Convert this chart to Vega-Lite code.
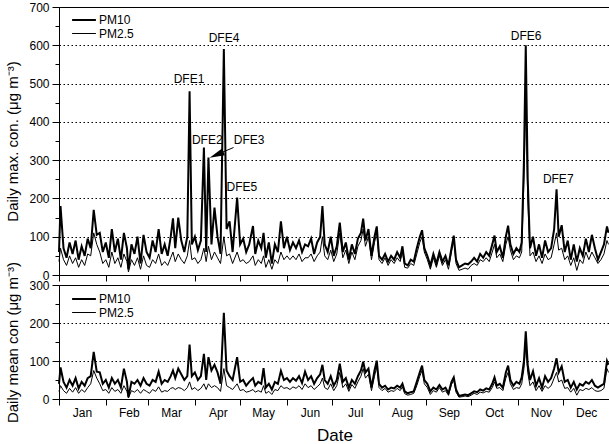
{
"$schema": "https://vega.github.io/schema/vega-lite/v6.json",
"padding": {"left": 5, "top": 0, "right": 0, "bottom": 0},
"bounds": "flush",
"spacing": 10,
"config": {
  "font": "Liberation Sans",
  "view": {"stroke": "black", "strokeWidth": 1},
  "axis": {"domainColor": "black", "tickColor": "black", "labelColor": "black", "titleColor": "black", "labelFontSize": 12, "titleFontSize": 15, "titleFontWeight": "normal", "labelFont": "Liberation Sans", "titleFont": "Liberation Sans"},
  "legend": {"labelFont": "Liberation Sans", "labelFontSize": 12, "labelColor": "black"}
},
"datasets": {"daily": [
{"d":0,"max10":60,"max25":35,"mean10":40,"mean25":20},
{"d":1,"max10":180,"max25":70,"mean10":83,"mean25":35},
{"d":3,"max10":70,"max25":40,"mean10":45,"mean25":22},
{"d":5,"max10":45,"max25":25,"mean10":30,"mean25":15},
{"d":7,"max10":85,"max25":50,"mean10":50,"mean25":28},
{"d":9,"max10":55,"max25":30,"mean10":35,"mean25":18},
{"d":11,"max10":90,"max25":45,"mean10":55,"mean25":30},
{"d":13,"max10":40,"max25":20,"mean10":28,"mean25":15},
{"d":15,"max10":75,"max25":40,"mean10":45,"mean25":25},
{"d":17,"max10":50,"max25":25,"mean10":35,"mean25":18},
{"d":19,"max10":95,"max25":55,"mean10":55,"mean25":30},
{"d":21,"max10":70,"max25":50,"mean10":60,"mean25":40},
{"d":23,"max10":170,"max25":110,"mean10":124,"mean25":75},
{"d":25,"max10":105,"max25":80,"mean10":72,"mean25":55},
{"d":27,"max10":110,"max25":60,"mean10":70,"mean25":40},
{"d":29,"max10":60,"max25":30,"mean10":40,"mean25":22},
{"d":31,"max10":85,"max25":40,"mean10":50,"mean25":25},
{"d":33,"max10":45,"max25":20,"mean10":30,"mean25":15},
{"d":35,"max10":120,"max25":60,"mean10":55,"mean25":30},
{"d":37,"max10":60,"max25":30,"mean10":40,"mean25":20},
{"d":39,"max10":95,"max25":45,"mean10":50,"mean25":25},
{"d":41,"max10":40,"max25":20,"mean10":30,"mean25":15},
{"d":43,"max10":110,"max25":55,"mean10":80,"mean25":35},
{"d":45,"max10":70,"max25":35,"mean10":45,"mean25":20},
{"d":46,"max10":15,"max25":8,"mean10":5,"mean25":3},
{"d":48,"max10":80,"max25":40,"mean10":45,"mean25":22},
{"d":50,"max10":55,"max25":25,"mean10":40,"mean25":18},
{"d":52,"max10":100,"max25":45,"mean10":50,"mean25":25},
{"d":54,"max10":30,"max25":15,"mean10":35,"mean25":15},
{"d":56,"max10":105,"max25":50,"mean10":55,"mean25":25},
{"d":58,"max10":60,"max25":25,"mean10":40,"mean25":20},
{"d":60,"max10":45,"max25":20,"mean10":35,"mean25":15},
{"d":62,"max10":90,"max25":40,"mean10":50,"mean25":25},
{"d":64,"max10":60,"max25":30,"mean10":45,"mean25":20},
{"d":66,"max10":120,"max25":55,"mean10":72,"mean25":32},
{"d":68,"max10":55,"max25":25,"mean10":40,"mean25":18},
{"d":70,"max10":80,"max25":35,"mean10":50,"mean25":22},
{"d":72,"max10":50,"max25":25,"mean10":45,"mean25":20},
{"d":74,"max10":100,"max25":45,"mean10":60,"mean25":28},
{"d":75.5,"max10":148,"max25":60,"mean10":75,"mean25":30},
{"d":77,"max10":70,"max25":35,"mean10":55,"mean25":25},
{"d":79,"max10":150,"max25":55,"mean10":80,"mean25":30},
{"d":81,"max10":90,"max25":40,"mean10":65,"mean25":28},
{"d":83,"max10":60,"max25":30,"mean10":50,"mean25":22},
{"d":85,"max10":100,"max25":50,"mean10":60,"mean25":30},
{"d":86.5,"max10":480,"max25":90,"mean10":143,"mean25":45},
{"d":88,"max10":80,"max25":40,"mean10":60,"mean25":25},
{"d":90,"max10":100,"max25":45,"mean10":70,"mean25":30},
{"d":92,"max10":65,"max25":30,"mean10":50,"mean25":22},
{"d":94,"max10":90,"max25":40,"mean10":60,"mean25":28},
{"d":96,"max10":333,"max25":70,"mean10":119,"mean25":40},
{"d":97.5,"max10":60,"max25":35,"mean10":50,"mean25":25},
{"d":99,"max10":307,"max25":75,"mean10":110,"mean25":40},
{"d":101,"max10":80,"max25":40,"mean10":75,"mean25":30},
{"d":103,"max10":176,"max25":60,"mean10":90,"mean25":35},
{"d":105,"max10":100,"max25":45,"mean10":70,"mean25":30},
{"d":107,"max10":55,"max25":30,"mean10":40,"mean25":20},
{"d":109.2,"max10":590,"max25":100,"mean10":227,"mean25":80},
{"d":111,"max10":120,"max25":50,"mean10":75,"mean25":35},
{"d":113,"max10":140,"max25":55,"mean10":60,"mean25":30},
{"d":115,"max10":60,"max25":30,"mean10":50,"mean25":25},
{"d":118,"max10":202,"max25":60,"mean10":110,"mean25":40},
{"d":120,"max10":80,"max25":35,"mean10":45,"mean25":22},
{"d":122,"max10":95,"max25":40,"mean10":50,"mean25":25},
{"d":124,"max10":60,"max25":30,"mean10":35,"mean25":18},
{"d":126,"max10":80,"max25":35,"mean10":45,"mean25":20},
{"d":128.5,"max10":128,"max25":50,"mean10":55,"mean25":25},
{"d":130,"max10":55,"max25":25,"mean10":35,"mean25":18},
{"d":132,"max10":90,"max25":40,"mean10":45,"mean25":22},
{"d":134,"max10":70,"max25":30,"mean10":40,"mean25":18},
{"d":135.5,"max10":110,"max25":50,"mean10":81,"mean25":35},
{"d":137,"max10":45,"max25":20,"mean10":30,"mean25":15},
{"d":139,"max10":85,"max25":40,"mean10":40,"mean25":20},
{"d":141,"max10":30,"max25":15,"mean10":25,"mean25":12},
{"d":143,"max10":80,"max25":40,"mean10":45,"mean25":25},
{"d":145,"max10":60,"max25":30,"mean10":40,"mean25":22},
{"d":147,"max10":140,"max25":60,"mean10":74,"mean25":35},
{"d":149,"max10":70,"max25":40,"mean10":50,"mean25":28},
{"d":151,"max10":100,"max25":50,"mean10":55,"mean25":30},
{"d":153,"max10":65,"max25":40,"mean10":45,"mean25":25},
{"d":155,"max10":85,"max25":50,"mean10":55,"mean25":32},
{"d":157,"max10":70,"max25":40,"mean10":48,"mean25":28},
{"d":159,"max10":90,"max25":55,"mean10":60,"mean25":35},
{"d":161,"max10":60,"max25":35,"mean10":42,"mean25":25},
{"d":163,"max10":80,"max25":45,"mean10":72,"mean25":40},
{"d":165,"max10":75,"max25":45,"mean10":50,"mean25":30},
{"d":167,"max10":95,"max25":55,"mean10":60,"mean25":35},
{"d":169,"max10":55,"max25":35,"mean10":40,"mean25":25},
{"d":171,"max10":85,"max25":50,"mean10":55,"mean25":32},
{"d":173,"max10":100,"max25":60,"mean10":65,"mean25":40},
{"d":174.5,"max10":180,"max25":100,"mean10":90,"mean25":55},
{"d":176,"max10":80,"max25":50,"mean10":50,"mean25":30},
{"d":178,"max10":60,"max25":40,"mean10":40,"mean25":25},
{"d":180,"max10":100,"max25":65,"mean10":60,"mean25":40},
{"d":182,"max10":50,"max25":35,"mean10":35,"mean25":22},
{"d":184,"max10":75,"max25":55,"mean10":50,"mean25":35},
{"d":186,"max10":137,"max25":110,"mean10":93,"mean25":70},
{"d":188,"max10":60,"max25":45,"mean10":45,"mean25":30},
{"d":190,"max10":85,"max25":65,"mean10":55,"mean25":40},
{"d":192,"max10":40,"max25":30,"mean10":30,"mean25":20},
{"d":194,"max10":80,"max25":60,"mean10":50,"mean25":38},
{"d":196,"max10":55,"max25":40,"mean10":40,"mean25":28},
{"d":198,"max10":95,"max25":75,"mean10":60,"mean25":45},
{"d":200,"max10":110,"max25":90,"mean10":75,"mean25":60},
{"d":201.5,"max10":147,"max25":120,"mean10":98,"mean25":80},
{"d":203,"max10":90,"max25":75,"mean10":70,"mean25":55},
{"d":205,"max10":120,"max25":100,"mean10":80,"mean25":65},
{"d":207,"max10":50,"max25":40,"mean10":30,"mean25":22},
{"d":209,"max10":100,"max25":85,"mean10":75,"mean25":60},
{"d":210.5,"max10":127,"max25":110,"mean10":101,"mean25":85},
{"d":212,"max10":50,"max25":40,"mean10":40,"mean25":30},
{"d":214,"max10":40,"max25":30,"mean10":30,"mean25":22},
{"d":216,"max10":55,"max25":45,"mean10":35,"mean25":28},
{"d":218,"max10":35,"max25":25,"mean10":25,"mean25":18},
{"d":220,"max10":50,"max25":40,"mean10":30,"mean25":22},
{"d":222,"max10":40,"max25":30,"mean10":28,"mean25":20},
{"d":224,"max10":60,"max25":45,"mean10":35,"mean25":28},
{"d":226,"max10":45,"max25":35,"mean10":30,"mean25":22},
{"d":227.5,"max10":75,"max25":60,"mean10":40,"mean25":32},
{"d":229,"max10":30,"max25":20,"mean10":20,"mean25":14},
{"d":231,"max10":25,"max25":18,"mean10":15,"mean25":10},
{"d":233,"max10":40,"max25":30,"mean10":18,"mean25":12},
{"d":235,"max10":35,"max25":25,"mean10":20,"mean25":15},
{"d":237,"max10":70,"max25":55,"mean10":45,"mean25":35},
{"d":239,"max10":100,"max25":85,"mean10":70,"mean25":60},
{"d":240.5,"max10":117,"max25":100,"mean10":88,"mean25":75},
{"d":242,"max10":70,"max25":60,"mean10":50,"mean25":40},
{"d":244,"max10":50,"max25":40,"mean10":40,"mean25":30},
{"d":246,"max10":25,"max25":15,"mean10":20,"mean25":12},
{"d":248,"max10":55,"max25":45,"mean10":30,"mean25":22},
{"d":250,"max10":30,"max25":20,"mean10":25,"mean25":18},
{"d":252,"max10":60,"max25":50,"mean10":37,"mean25":30},
{"d":254,"max10":35,"max25":25,"mean10":25,"mean25":18},
{"d":256,"max10":50,"max25":40,"mean10":30,"mean25":22},
{"d":258,"max10":25,"max25":15,"mean10":15,"mean25":10},
{"d":260,"max10":70,"max25":60,"mean10":45,"mean25":38},
{"d":261.5,"max10":103,"max25":90,"mean10":57,"mean25":50},
{"d":263,"max10":40,"max25":30,"mean10":25,"mean25":18},
{"d":265,"max10":20,"max25":12,"mean10":8,"mean25":5},
{"d":267,"max10":25,"max25":15,"mean10":10,"mean25":6},
{"d":269,"max10":30,"max25":18,"mean10":12,"mean25":8},
{"d":271,"max10":28,"max25":15,"mean10":10,"mean25":6},
{"d":273,"max10":35,"max25":25,"mean10":15,"mean25":10},
{"d":275,"max10":45,"max25":30,"mean10":20,"mean25":15},
{"d":277,"max10":35,"max25":25,"mean10":18,"mean25":12},
{"d":279,"max10":55,"max25":40,"mean10":25,"mean25":18},
{"d":281,"max10":45,"max25":35,"mean10":22,"mean25":16},
{"d":283,"max10":60,"max25":45,"mean10":28,"mean25":20},
{"d":285,"max10":50,"max25":35,"mean10":25,"mean25":18},
{"d":287,"max10":80,"max25":60,"mean10":40,"mean25":30},
{"d":288.5,"max10":103,"max25":80,"mean10":57,"mean25":45},
{"d":290,"max10":60,"max25":45,"mean10":35,"mean25":28},
{"d":292,"max10":75,"max25":55,"mean10":40,"mean25":30},
{"d":294,"max10":45,"max25":35,"mean10":30,"mean25":22},
{"d":296,"max10":100,"max25":80,"mean10":70,"mean25":55},
{"d":297.5,"max10":129,"max25":100,"mean10":88,"mean25":70},
{"d":299,"max10":80,"max25":65,"mean10":50,"mean25":40},
{"d":301,"max10":55,"max25":40,"mean10":35,"mean25":25},
{"d":303,"max10":70,"max25":50,"mean10":45,"mean25":30},
{"d":305,"max10":60,"max25":45,"mean10":40,"mean25":28},
{"d":306.5,"max10":85,"max25":60,"mean10":57,"mean25":40},
{"d":308,"max10":300,"max25":250,"mean10":100,"mean25":80},
{"d":309.2,"max10":600,"max25":450,"mean10":178,"mean25":140},
{"d":310.5,"max10":250,"max25":200,"mean10":90,"mean25":70},
{"d":312,"max10":70,"max25":50,"mean10":50,"mean25":35},
{"d":314,"max10":100,"max25":60,"mean10":73,"mean25":45},
{"d":316,"max10":50,"max25":35,"mean10":35,"mean25":22},
{"d":318,"max10":80,"max25":50,"mean10":55,"mean25":35},
{"d":320,"max10":45,"max25":30,"mean10":30,"mean25":20},
{"d":322,"max10":90,"max25":55,"mean10":60,"mean25":35},
{"d":324,"max10":60,"max25":40,"mean10":45,"mean25":28},
{"d":326,"max10":70,"max25":45,"mean10":55,"mean25":35},
{"d":328,"max10":120,"max25":80,"mean10":80,"mean25":55},
{"d":329.6,"max10":224,"max25":110,"mean10":107,"mean25":70},
{"d":331,"max10":100,"max25":65,"mean10":70,"mean25":45},
{"d":333,"max10":130,"max25":70,"mean10":86,"mean25":50},
{"d":335,"max10":60,"max25":40,"mean10":45,"mean25":28},
{"d":337,"max10":90,"max25":50,"mean10":50,"mean25":30},
{"d":339,"max10":40,"max25":25,"mean10":30,"mean25":18},
{"d":341,"max10":80,"max25":45,"mean10":45,"mean25":28},
{"d":343,"max10":35,"max25":12,"mean10":25,"mean25":10},
{"d":345,"max10":70,"max25":40,"mean10":40,"mean25":25},
{"d":347,"max10":50,"max25":30,"mean10":35,"mean25":22},
{"d":349,"max10":95,"max25":60,"mean10":45,"mean25":28},
{"d":351,"max10":60,"max25":40,"mean10":40,"mean25":25},
{"d":353,"max10":105,"max25":60,"mean10":50,"mean25":30},
{"d":355,"max10":70,"max25":45,"mean10":35,"mean25":22},
{"d":357,"max10":40,"max25":30,"mean10":30,"mean25":20},
{"d":359,"max10":60,"max25":40,"mean10":35,"mean25":22},
{"d":361,"max10":80,"max25":55,"mean10":40,"mean25":28},
{"d":363,"max10":127,"max25":90,"mean10":100,"mean25":80},
{"d":364,"max10":110,"max25":80,"mean10":90,"mean25":70}
]},
"vconcat": [
{
  "width": 551, "height": 268,
  "encoding": {
    "x": {"field": "d", "type": "quantitative", "scale": {"domain": [0, 365], "nice": false, "zero": false},
      "axis": {"values": [0,31,59,90,120,151,181,212,243,273,304,334], "labels": false, "title": null, "tickSize": 6, "grid": false}},
    "y": {"field": "v", "type": "quantitative", "scale": {"domain": [0, 700], "nice": false},
      "axis": {"values": [0,50,100,150,200,250,300,350,400,450,500,550,600,650,700], "title": "Daily max. con. (μg m⁻³)",
        "labelExpr": "datum.value % 100 === 0 ? datum.label : ''",
        "tickSize": {"condition": {"test": "datum.value % 100 !== 0", "value": 4}, "value": 7},
        "labelPadding": 3, "titlePadding": 8,
        "grid": true, "gridDash": [1.5, 2.5], "gridColor": "black",
        "gridOpacity": {"condition": {"test": "datum.value % 100 === 0 && datum.value > 0 && datum.value < 700", "value": 1}, "value": 0}}}
  },
  "layer": [
    {
      "data": {"name": "daily"},
      "transform": [{"fold": ["max10", "max25"], "as": ["s", "v"]}],
      "mark": {"type": "line", "color": "black"},
      "encoding": {
        "strokeWidth": {"field": "s", "type": "nominal", "scale": {"domain": ["max10", "max25"], "range": [2, 1]},
          "legend": {"title": null, "orient": "none", "legendX": 17, "legendY": 5, "symbolType": "M-1.7,0L1.7,0", "symbolSize": 196, "symbolStrokeColor": "black", "symbolFillColor": "transparent", "labelExpr": "datum.label == 'max10' ? 'PM10' : 'PM2.5'", "rowPadding": -2, "labelOffset": 7, "padding": 0}}
      }
    },
    {
      "data": {"values": [
        {"d": 86.1, "v": 511, "t": "DFE1"},
        {"d": 98.2, "v": 353, "t": "DFE2"},
        {"d": 125.9, "v": 352, "t": "DFE3"},
        {"d": 109.3, "v": 618, "t": "DFE4"},
        {"d": 121.2, "v": 231, "t": "DFE5"},
        {"d": 309.5, "v": 623, "t": "DFE6"},
        {"d": 330.7, "v": 252, "t": "DFE7"}
      ]},
      "mark": {"type": "text", "fontSize": 12, "color": "black", "baseline": "middle", "align": "center"},
      "encoding": {"text": {"field": "t"}}
    },
    {
      "data": {"values": [{"d": 115.6, "v": 333, "d2": 105.5, "v2": 316}]},
      "mark": {"type": "rule", "color": "black", "strokeWidth": 1},
      "encoding": {"x2": {"field": "d2"}, "y2": {"field": "v2"}}
    },
    {
      "data": {"values": [{"d": 105.5, "v": 316}]},
      "mark": {"type": "point", "shape": "M0,-1L0.4,0.6L-0.4,0.6Z", "size": 350, "angle": 247, "filled": true, "color": "black", "opacity": 1},
      "encoding": {}
    }
  ]
},
{
  "width": 551, "height": 114,
  "data": {"name": "daily"},
  "transform": [{"fold": ["mean10", "mean25"], "as": ["s", "v"]}],
  "mark": {"type": "line", "color": "black"},
  "encoding": {
    "x": {"field": "d", "type": "quantitative", "scale": {"domain": [0, 365], "nice": false, "zero": false},
      "axis": {"values": [0,31,59,90,120,151,181,212,243,273,304,334], "title": "Date", "titleFontSize": 17,
        "labelExpr": "['Jan','Feb','Mar','Apr','May','Jun','Jul','Aug','Sep','Oct','Nov','Dec'][indexof([0,31,59,90,120,151,181,212,243,273,304,334], datum.value)]",
        "labelOffset": 23, "labelOverlap": false, "labelFlush": false, "labelBound": false, "tickSize": 6, "labelPadding": 2, "titlePadding": 9, "grid": false}},
    "y": {"field": "v", "type": "quantitative", "scale": {"domain": [0, 300], "nice": false},
      "axis": {"values": [0,50,100,150,200,250,300], "title": "Daily mean con (μg m⁻³)",
        "labelExpr": "datum.value % 100 === 0 ? datum.label : ''",
        "tickSize": {"condition": {"test": "datum.value % 100 !== 0", "value": 4}, "value": 7},
        "labelPadding": 3, "titlePadding": 8,
        "grid": true, "gridDash": [1.5, 2.5], "gridColor": "black",
        "gridOpacity": {"condition": {"test": "datum.value % 100 === 0 && datum.value > 0 && datum.value < 300", "value": 1}, "value": 0}}},
    "strokeWidth": {"field": "s", "type": "nominal", "scale": {"domain": ["mean10", "mean25"], "range": [2, 1]},
      "legend": {"title": null, "orient": "none", "legendX": 17, "legendY": 6, "symbolType": "M-1.7,0L1.7,0", "symbolSize": 196, "symbolStrokeColor": "black", "symbolFillColor": "transparent", "labelExpr": "datum.label == 'mean10' ? 'PM10' : 'PM2.5'", "rowPadding": -2, "labelOffset": 7, "padding": 0}}
  }
}
],
"resolve": {"scale": {"strokeWidth": "independent"}, "legend": {"strokeWidth": "independent"}}
}
